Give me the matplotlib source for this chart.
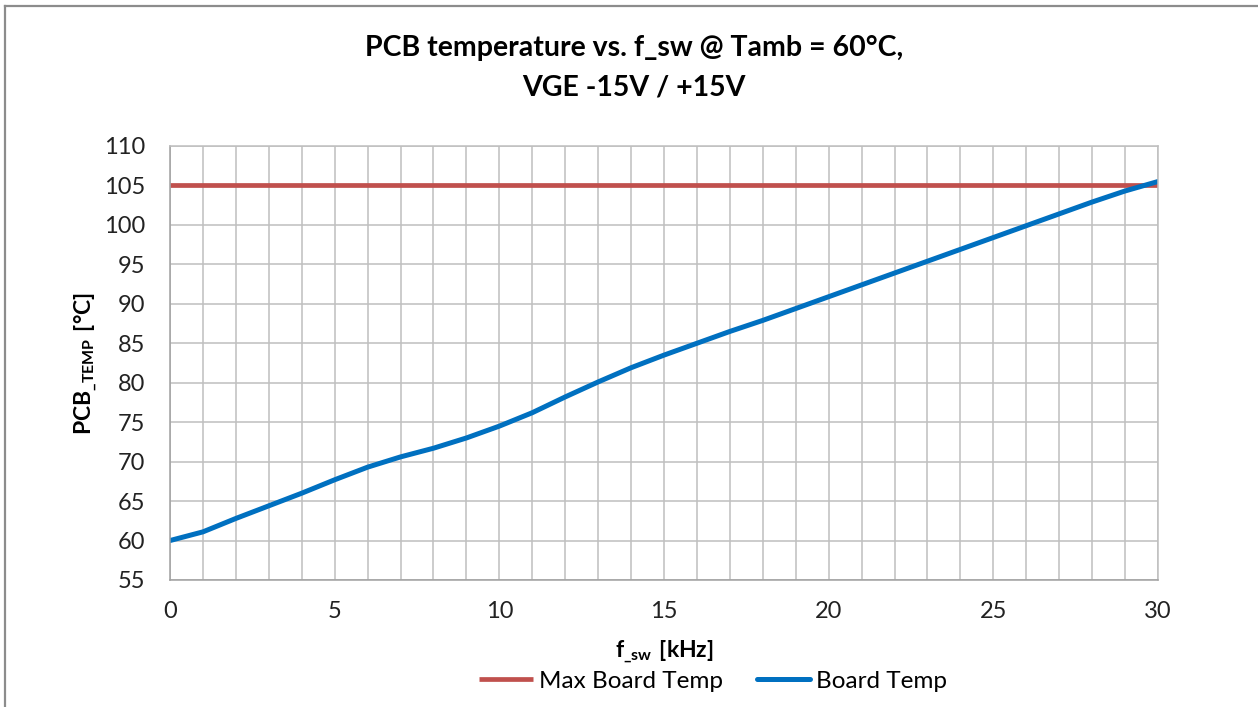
import numpy as np
import matplotlib.pyplot as plt
from matplotlib.lines import Line2D

plt.rcParams['font.family'] = ['Lato', 'DejaVu Sans']
plt.rcParams['mathtext.fontset'] = 'custom'
plt.rcParams['mathtext.rm'] = 'Lato'
plt.rcParams['mathtext.bf'] = 'Lato:bold'

# data
f_sw = [0, 1, 2, 3, 4, 5, 6, 7, 8, 9, 10, 11, 12, 13, 14, 15, 16, 17, 18, 19,
        20, 21, 22, 23, 24, 25, 26, 27, 28, 29, 30]
board_temp = [60.0, 61.1, 62.8, 64.4, 66.0, 67.7, 69.3, 70.6, 71.7, 73.0, 74.5,
              76.2, 78.2, 80.1, 81.9, 83.5, 85.0, 86.5, 87.9, 89.4, 90.9, 92.4,
              93.9, 95.4, 96.9, 98.4, 99.9, 101.4, 102.9, 104.3, 105.5]
max_temp = [105, 105]
max_x = [0, 30]

red = '#C0504D'
blue = '#0070C0'
grid_col = '#BFBFBF'

fig = plt.figure(figsize=(12.58, 7.07), dpi=100)
ax = fig.add_axes([170 / 1258, 1 - 580 / 707, 988 / 1258, 434 / 707])

ax.plot(max_x, max_temp, color=red, lw=3.4, label='Max Board Temp', solid_capstyle='butt')
ax.plot(f_sw, board_temp, color=blue, lw=3.6, label='Board Temp',
        solid_capstyle='round', solid_joinstyle='round')

ax.set_xlim(0, 30)
ax.set_ylim(55, 110)
ax.set_xticks(np.arange(0, 31, 5))
ax.set_xticks(np.arange(0, 31, 1), minor=True)
ax.set_yticks(np.arange(55, 111, 5))
ax.grid(True, which='both', color=grid_col, lw=1.1)
ax.set_axisbelow(True)
ax.tick_params(which='both', length=0, labelsize=17, colors='#222222')
ax.tick_params(axis='y', pad=18)
ax.tick_params(axis='x', pad=15)
for s in ax.spines.values():
    s.set_color(grid_col)
    s.set_linewidth(1.1)
ax.spines['left'].set_color('#A0A0A0')
ax.spines['bottom'].set_color('#A0A0A0')

ax.set_xlabel(r'$\mathbf{f}_{\mathbf{\_sw}}\ \mathbf{[kHz]}$', fontsize=16.5, labelpad=12)
ax.set_ylabel(r'$\mathbf{PCB}_{\mathbf{\_TEMP}}\ \mathbf{[°C]}$', fontsize=16.5, labelpad=3)

fig.text(0.504, 0.932, 'PCB temperature vs. f_sw @ Tamb = 60°C,', ha='center', va='center',
         fontsize=20.5, fontweight='bold')
fig.text(0.504, 0.876, 'VGE -15V / +15V', ha='center', va='center',
         fontsize=20.5, fontweight='bold')

fig.legend(loc='center', bbox_to_anchor=(0.567, 1 - 681 / 707), ncol=2, frameon=False,
           fontsize=17.5, handlelength=2.2, handletextpad=0.25, columnspacing=1.4)

# outer chart border
fig.add_artist(Line2D([5 / 1258, 5 / 1258], [0, 1 - 6 / 707], color='#8C8C8C', lw=1.6))
fig.add_artist(Line2D([5 / 1258, 1], [1 - 6 / 707, 1 - 6 / 707], color='#8C8C8C', lw=1.6))

fig.savefig('out.png', dpi=100)
